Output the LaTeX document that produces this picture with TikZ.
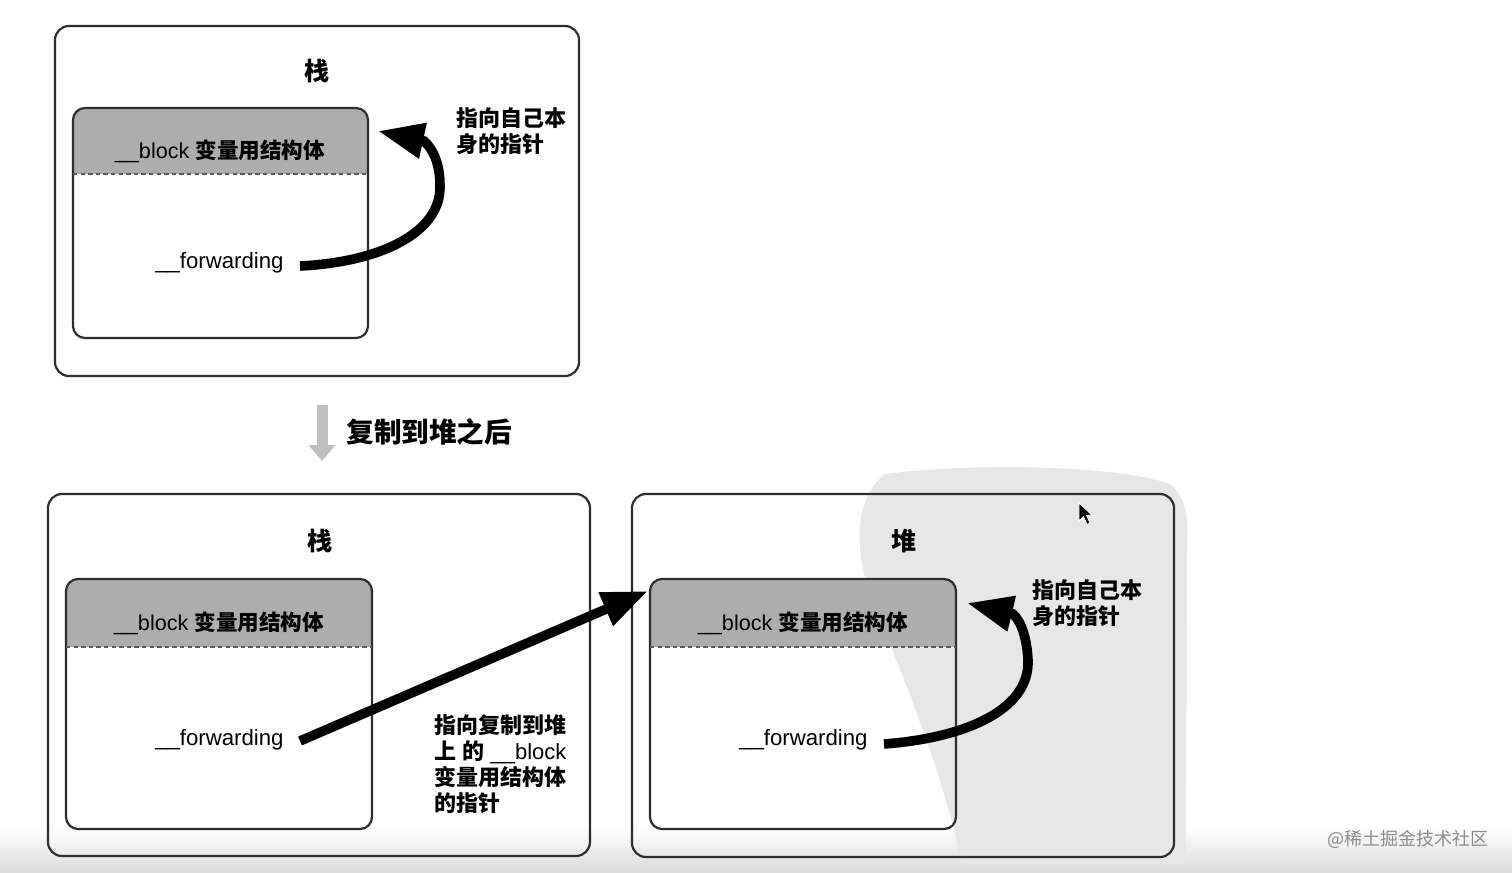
\documentclass[tikz,border=0pt]{standalone}
\usepackage{fontspec}
\setmainfont{Liberation Sans}
\newfontfamily\cjk{Noto Sans CJK SC}
\usetikzlibrary{arrows.meta,fit}
\newcommand\zh[1]{{\cjk\bfseries #1}}
\definecolor{frame}{HTML}{2E2E2E}
\definecolor{hdr}{HTML}{ADADAD}
\definecolor{wm}{HTML}{E7E7E7}
\tikzset{
  outerbox/.style={draw=frame, line width=1.1pt, rounded corners=7pt, inner sep=0pt},
  innerbox/.style={draw=frame, line width=1.1pt, rounded corners=6pt, inner sep=0pt},
  sep/.style={draw=frame!80, line width=0.6pt, dash pattern=on 2.2pt off 1.6pt},
  txt/.style={inner sep=0pt, font=\fontsize{10.8}{13}\selectfont},
  fwd/.style={inner sep=0pt, font=\fontsize{11.1}{13}\selectfont},
  ttl/.style={inner sep=0pt, font=\fontsize{12.5}{14}\selectfont},
  lbl/.style={inner sep=0pt, align=left, font=\fontsize{11}{13}\selectfont},
  ptr/.style={line width=4.8pt, -{Triangle[length=23pt,width=17pt]}},
  copyarrow/.style={draw=black!25, line width=5.5pt, -{Triangle[length=8pt,width=13pt]}}
}
\begin{document}
\begin{tikzpicture}[x=0.5pt,y=-0.5pt]
\useasboundingbox (0,0) rectangle (1512,873);
\fill[white] (0,0) rectangle (1512,873);
\shade[top color=white, bottom color=black!14] (0,826) rectangle (1512,873);
% faint seal watermark behind heap box
\fill[wm] (885,474) .. controls (980,462) and (1120,466) .. (1170,484)
  .. controls (1188,500) and (1188,520) .. (1187,545)
  -- (1186,864) -- (962,864)
  .. controls (945,780) and (905,680) .. (872,600)
  .. controls (855,555) and (852,500) .. cycle;

% ---------- top: stack ----------
\node[outerbox, fit={(55,26) (579,376)}] (S1) {};
\begin{scope}
  \clip[rounded corners=6pt] (73,108) rectangle (368,338);
  \fill[hdr] (73,108) rectangle (368,174);
\end{scope}
\node[innerbox, fit={(73,108) (368,338)}] (B1) {};
\draw[sep] (73,174) -- (368,174);
\node[ttl] (T1) at (317,71) {\zh{栈}};
\node[txt] (H1) at (220,151) {\_\_block \zh{变量用结构体}};
\node[fwd, anchor=east] (F1) at (284,263) {\_\_forwarding};
\node[lbl, anchor=west] (L1) at (456,131) {\zh{指向自己本}\\\zh{身的指针}};
\coordinate (A1) at (378,131);
\draw[ptr] ([xshift=8pt,yshift=-1.5pt]F1.east) .. controls (382,262) and (441,232) .. (440,186)
  .. controls (440,162) and (432,148) .. (424,141) -- (A1);

% ---------- copy arrow ----------
\coordinate (C0) at (322,405);
\coordinate (C1) at (322,461);
\draw[copyarrow] (C0) -- (C1);
\node[inner sep=0pt, anchor=west, font=\fontsize{13.8}{15}\selectfont] (CP) at (346,432) {\zh{复制到堆之后}};

% ---------- bottom left: stack ----------
\node[outerbox, fit={(48,494) (590,856)}] (S2) {};
\begin{scope}
  \clip[rounded corners=6pt] (66,579) rectangle (372,829);
  \fill[hdr] (66,579) rectangle (372,647);
\end{scope}
\node[innerbox, fit={(66,579) (372,829)}] (B2) {};
\draw[sep] (66,647) -- (372,647);
\node[ttl] (T2) at (320,541) {\zh{栈}};
\node[txt] (H2) at (219,623) {\_\_block \zh{变量用结构体}};
\node[fwd, anchor=east] (F2) at (284,740) {\_\_forwarding};
\node[lbl, anchor=west] (L2) at (434,764) {\zh{指向复制到堆}\\\zh{上} \zh{的} \_\_block\\\zh{变量用结构体}\\\zh{的指针}};

% ---------- bottom right: heap ----------
\node[outerbox, fit={(632,494) (1174,857)}] (S3) {};
\begin{scope}
  \clip[rounded corners=6pt] (650,579) rectangle (956,829);
  \fill[hdr] (650,579) rectangle (956,647);
\end{scope}
\node[innerbox, fit={(650,579) (956,829)}] (B3) {};
\draw[sep] (650,647) -- (956,647);
\node[ttl] (T3) at (904,541) {\zh{堆}};
\node[txt] (H3) at (803,623) {\_\_block \zh{变量用结构体}};
\node[fwd, anchor=east] (F3) at (868,740) {\_\_forwarding};
\node[lbl, anchor=west] (L3) at (1032,603) {\zh{指向自己本}\\\zh{身的指针}};
\coordinate (A3) at (967,603);
\draw[ptr] ([xshift=8pt,yshift=-2pt]F3.east) .. controls (965,738) and (1030,710) .. (1028,660)
  .. controls (1027,640) and (1022,622) .. (1013,614) -- (A3);

% ---------- pointer from stack to heap ----------
\coordinate (A2) at (648,591);
\draw[ptr] ([xshift=8pt,yshift=-0.5pt]F2.east) -- (A2);

% mouse pointer
\fill[black, draw=white, line width=0.4pt] (1079,503) -- (1079,521) -- (1083.5,516.5) -- (1087,524.5)
  -- (1090,523) -- (1086.5,515.5) -- (1092,515) -- cycle;

% site watermark
\node[inner sep=0pt, text=black!45, font=\cjk\fontsize{9}{10}\selectfont] (WM) at (1408,839) {@稀土掘金技术社区};
\end{tikzpicture}
\end{document}
